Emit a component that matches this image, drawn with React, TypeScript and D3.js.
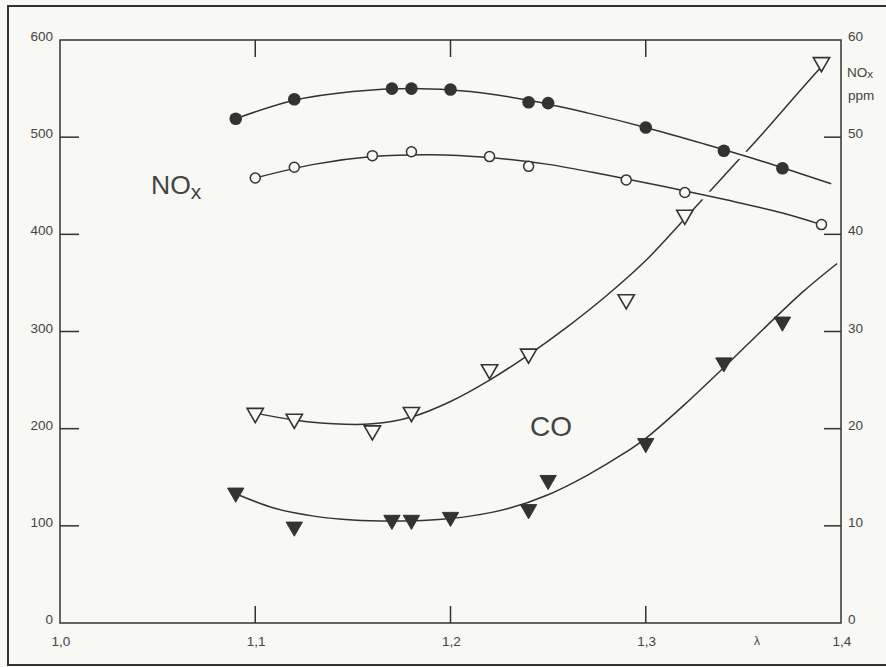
import React from 'react';
import * as d3 from 'd3';

// lambda values and measured points (left axis units, 0..600)
const filledCircleX = [1.09, 1.12, 1.17, 1.18, 1.20, 1.24, 1.25, 1.30, 1.34, 1.37];
const filledCircleY = [519, 539, 550, 550, 549, 536, 535, 510, 486, 468];

const openCircleX = [1.10, 1.12, 1.16, 1.18, 1.22, 1.24, 1.29, 1.32, 1.39];
const openCircleY = [458, 469, 481, 485, 480, 470, 456, 443, 410];

const openTriX = [1.10, 1.12, 1.16, 1.18, 1.22, 1.24, 1.29, 1.32, 1.39];
const openTriY = [216, 210, 198, 217, 261, 277, 333, 420, 577];

const filledTriX = [1.09, 1.12, 1.17, 1.18, 1.20, 1.24, 1.25, 1.30, 1.34, 1.37];
const filledTriY = [134, 99, 106, 106, 109, 117, 147, 185, 268, 310];

// hand drawn fit curves
const filledCircleCurve: [number, number][] = [
  [1.09, 519], [1.12, 538], [1.15, 547], [1.18, 550], [1.21, 547], [1.24, 538],
  [1.27, 525], [1.30, 510], [1.33, 493], [1.36, 475], [1.395, 452],
];
const openCircleCurve: [number, number][] = [
  [1.10, 458], [1.13, 472], [1.16, 480], [1.19, 482], [1.22, 479], [1.25, 472],
  [1.28, 461], [1.31, 449], [1.34, 436], [1.37, 422], [1.39, 410],
];
const openTriCurve: [number, number][] = [
  [1.10, 216], [1.12, 209], [1.14, 205], [1.16, 205], [1.18, 212], [1.20, 228],
  [1.22, 250], [1.24, 276], [1.26, 305], [1.28, 337], [1.30, 373], [1.32, 416],
  [1.34, 460], [1.36, 504], [1.38, 550], [1.392, 577],
];
const filledTriCurve: [number, number][] = [
  [1.09, 133], [1.11, 118], [1.13, 110], [1.15, 106], [1.17, 105], [1.19, 106],
  [1.21, 110], [1.23, 118], [1.25, 132], [1.27, 152], [1.29, 176], [1.30, 190],
  [1.32, 225], [1.34, 263], [1.36, 302], [1.38, 340], [1.398, 370],
];

const xTicks = [1.0, 1.1, 1.2, 1.3, 1.4];
const xTickLabels = ['1,0', '1,1', '1,2', '1,3', '1,4'];
const leftTicks = [0, 100, 200, 300, 400, 500, 600];
const rightTicks = [0, 10, 20, 30, 40, 50, 60];

const W = 886;
const H = 667;
const bg = '#f8f8f4';
const ink = '#333';
const txt = '#444';
const font = '"Liberation Sans", Arial, sans-serif';

export default function App() {
  const x = d3.scaleLinear().domain([1.0, 1.4]).range([60, 841]);
  const yL = d3.scaleLinear().domain([0, 600]).range([623, 40]);
  const yR = d3.scaleLinear().domain([0, 60]).range([623, 40]);

  const line = d3.line<[number, number]>()
    .x(d => x(d[0]))
    .y(d => yL(d[1]))
    .curve(d3.curveCatmullRom.alpha(0.5));

  const tri = d3.symbol().type(d3.symbolTriangle).size(115)() as string;

  const [x0, x1] = x.range();
  const [yb, yt] = yL.range();

  return (
    <svg width={W} height={H} style={{ position: 'absolute', left: 0, top: 0, background: bg }}
      fontFamily={font}>
      <rect x={0} y={0} width={W} height={H} fill={bg} />
      {/* outer frame */}
      <rect x={8} y={6} width={W + 10} height={659} fill="none" stroke={ink} strokeWidth={2} />

      {/* plot frame */}
      <rect x={x0} y={yt} width={x1 - x0} height={yb - yt} fill="none" stroke={ink} strokeWidth={1.5} />

      {/* ticks */}
      {xTicks.slice(1, -1).map(t => (
        <g key={'xt' + t}>
          <line x1={x(t)} x2={x(t)} y1={yb} y2={yb - 17} stroke={ink} strokeWidth={1.5} />
          <line x1={x(t)} x2={x(t)} y1={yt} y2={yt + 17} stroke={ink} strokeWidth={1.5} />
        </g>
      ))}
      {leftTicks.slice(1, -1).map(t => (
        <line key={'lt' + t} x1={x0} x2={x0 + 19} y1={yL(t)} y2={yL(t)} stroke={ink} strokeWidth={1.5} />
      ))}
      {rightTicks.slice(1, -1).map(t => (
        <line key={'rt' + t} x1={x1} x2={x1 - 17} y1={yR(t)} y2={yR(t)} stroke={ink} strokeWidth={1.5} />
      ))}

      {/* tick labels */}
      {xTicks.map((t, i) => (
        <text key={'xl' + t} x={x(t) + 1} y={646} textAnchor="middle" fontSize={13.5} fill={txt}>
          {xTickLabels[i]}
        </text>
      ))}
      {leftTicks.map(t => (
        <text key={'ll' + t} x={53} y={yL(t) + 1} textAnchor="end" fontSize={13.5} fill={txt}>{t}</text>
      ))}
      {rightTicks.map(t => (
        <text key={'rl' + t} x={848} y={yR(t) + 1} textAnchor="start" fontSize={13.5} fill={txt}>{t}</text>
      ))}
      <text x={847} y={77} fontSize={13.5} fill={txt}>NO<tspan fontSize={11.5} dy={1}>x</tspan></text>
      <text x={848} y={100} fontSize={13.5} fill={txt}>ppm</text>
      <text x={757} y={645} textAnchor="middle" fontSize={12} fill={txt}>λ</text>

      {/* series labels */}
      <text x={151} y={194} fontSize={26.5} fill={txt}>
        NO<tspan fontSize={21} dy={5}>x</tspan>
      </text>
      <text x={530} y={436} fontSize={28} fill={txt}>CO</text>

      {/* CO curves (drawn first so NOx curves break them) */}
      <path d={line(openTriCurve) ?? ''} fill="none" stroke={ink} strokeWidth={1.5} />
      <path d={line(filledTriCurve) ?? ''} fill="none" stroke={ink} strokeWidth={1.5} />

      {/* NOx curves with a gap halo */}
      {[filledCircleCurve, openCircleCurve].map((c, i) => (
        <path key={'halo' + i} d={line(c) ?? ''} fill="none" stroke={bg} strokeWidth={9} />
      ))}
      {[filledCircleCurve, openCircleCurve].map((c, i) => (
        <path key={'nox' + i} d={line(c) ?? ''} fill="none" stroke={ink} strokeWidth={1.5} />
      ))}

      {/* markers */}
      {filledCircleX.map((v, i) => (
        <circle key={'fc' + i} cx={x(v)} cy={yL(filledCircleY[i])} r={6.3} fill={ink} />
      ))}
      {openCircleX.map((v, i) => (
        <circle key={'oc' + i} cx={x(v)} cy={yL(openCircleY[i])} r={5} fill={bg} stroke={ink} strokeWidth={1.5} />
      ))}
      {openTriX.map((v, i) => (
        <path key={'ot' + i} d={tri} transform={`translate(${x(v)},${yL(openTriY[i])}) rotate(180)`}
          fill={bg} stroke={ink} strokeWidth={1.6} />
      ))}
      {filledTriX.map((v, i) => (
        <path key={'ft' + i} d={tri} transform={`translate(${x(v)},${yL(filledTriY[i])}) rotate(180)`}
          fill={ink} stroke={ink} strokeWidth={1} />
      ))}
    </svg>
  );
}
